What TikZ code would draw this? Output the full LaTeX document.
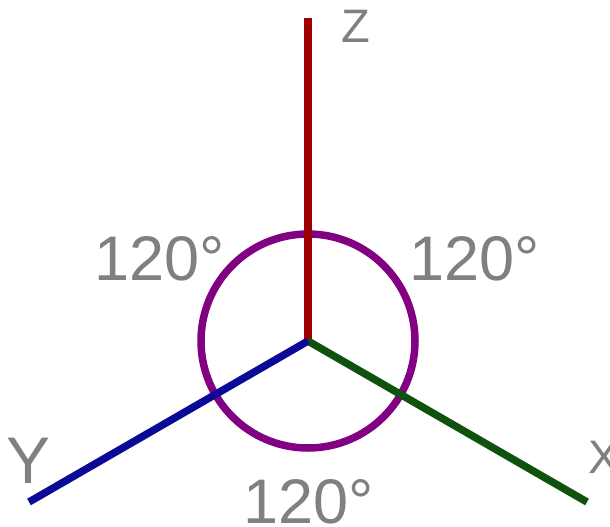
\documentclass[tikz,border=0pt]{standalone}
\usepackage{fontspec}
\setmainfont{Liberation Sans}
\definecolor{zred}{HTML}{A00000}
\definecolor{xgreen}{HTML}{0E520E}
\definecolor{yblue}{HTML}{0A0A96}
\definecolor{cpurple}{HTML}{820082}
\definecolor{lblgray}{HTML}{808080}
\begin{document}
\begin{tikzpicture}[x=1pt,y=-1pt,
  axis/.style={line width=7.5pt},
  lbl/.style={text=lblgray,inner sep=0pt,anchor=base,text depth=0pt},
  big/.style={lbl,font=\fontsize{63}{70}\selectfont},
  small/.style={lbl,font=\fontsize{47}{50}\selectfont}]
\clip (0,0) rectangle (610,527);
\fill[white] (0,0) rectangle (610,527);
\coordinate (O) at (308,341);
\coordinate (Zend) at (308,18);
\coordinate (Xend) at (587,502);
\coordinate (Yend) at (29,502);
\draw[cpurple,line width=7.5pt] (O) circle[radius=107];
\draw[axis,zred] (O) -- (Zend);
\draw[axis,xgreen] (O) -- (Xend);
\draw[axis,yblue] (O) -- (Yend);
\node[small] (zl) at (356,43) {Z};
\node[small] (xl) at (604,473) {X};
\node[lbl,font=\fontsize{66}{70}\selectfont] (yl) at (29,483) {Y};
\node[big] (a1) at (160,280) {120°};
\node[big] (a2) at (475,280) {120°};
\node[big] (a3) at (309,523) {120°};
\end{tikzpicture}
\end{document}
